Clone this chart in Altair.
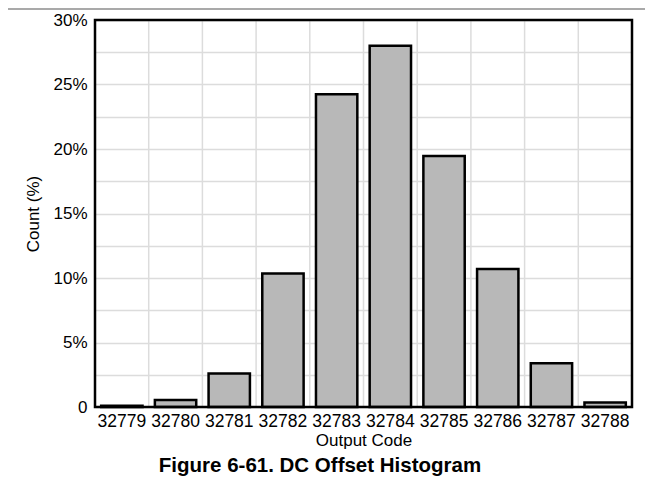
import altair as alt
import pandas as pd

codes = ["32779", "32780", "32781", "32782", "32783", "32784", "32785", "32786", "32787", "32788"]
counts = [0.1, 0.55, 2.6, 10.35, 24.25, 28.0, 19.45, 10.7, 3.4, 0.35]
y_ticks = [0, 2.5, 5, 7.5, 10, 12.5, 15, 17.5, 20, 22.5, 25, 27.5, 30]
fig_title = ["Figure 6-61. DC Offset Histogram"]

df = pd.DataFrame({"code": codes, "count": counts})
tdf = pd.DataFrame({"t": fig_title})

FONT = "Liberation Sans"
W, H = 537, 387

xscale = alt.Scale(domain=codes, paddingInner=0, paddingOuter=0)
yscale = alt.Scale(domain=[0, 30], nice=False)

xaxis = alt.Axis(title="Output Code", labelAngle=0, ticks=False, domain=False,
                 labelFontSize=17.5, titleFontSize=17, labelFont=FONT, titleFont=FONT,
                 labelColor="black", titleColor="black", titleFontWeight="normal",
                 labelPadding=5, titlePadding=3, grid=False, labelOverlap=False)
yaxis = alt.Axis(title="Count (%)", values=y_ticks, ticks=False, domain=False,
                 labelExpr="datum.value == 0 ? '0' : (datum.value % 5 == 0 ? datum.value + '%' : '')",
                 labelFontSize=17, titleFontSize=17, labelFont=FONT, titleFont=FONT,
                 labelColor="black", titleColor="black", titleFontWeight="normal",
                 labelPadding=8, titlePadding=10, grid=True, gridColor="#dcdcdc",
                 gridWidth=1.5)

grid_v = alt.Chart(df).mark_rule(color="#dcdcdc", strokeWidth=1.5).encode(
    x=alt.X("code:N", scale=xscale, sort=codes, bandPosition=0, axis=xaxis),
)

bars = alt.Chart(df).mark_bar(
    width=alt.RelativeBandSize(0.77), fill="#b8b8b8", stroke="black", strokeWidth=2.5
).encode(
    x=alt.X("code:N", scale=xscale, sort=codes, axis=xaxis),
    y=alt.Y("count:Q", scale=yscale, axis=yaxis),
)

frame = alt.Chart(tdf).mark_rect(fill=None, stroke="black", strokeWidth=2.5).encode(
    x=alt.value(0), x2=alt.value(W), y=alt.value(0), y2=alt.value(H)
)

title_text = alt.Chart(tdf).mark_text(
    font=FONT, fontSize=20.5, fontWeight="bold", color="black", baseline="alphabetic", align="center"
).encode(text="t:N", x=alt.value(320 - 95), y=alt.value(452))

top_rule = alt.Chart(tdf).mark_rule(color="#8c8c8c", strokeWidth=1.5).encode(
    x=alt.value(-95), x2=alt.value(653 - 95), y=alt.value(-11)
)

chart = alt.layer(grid_v, bars, frame, title_text, top_rule).properties(
    width=W, height=H,
    background="white",
    autosize=alt.AutoSizeParams(type="none"),
    padding={"left": 87, "top": 12, "right": 13, "bottom": 72},
).configure_view(stroke=None)

chart.save("out.html", embed_options={"renderer": "svg", "actions": False})
